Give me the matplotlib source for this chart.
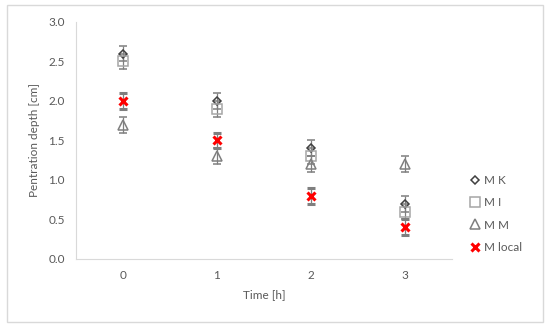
import numpy as np
import matplotlib
matplotlib.use("Agg")
import matplotlib.pyplot as plt
from matplotlib.patches import Rectangle
from matplotlib.lines import Line2D

plt.rcParams['font.family'] = ['Lato', 'DejaVu Sans']

time = [0, 1, 2, 3]
mk = [2.6, 2.0, 1.4, 0.7]
mi = [2.5, 1.9, 1.3, 0.6]
mm = [1.7, 1.3, 1.2, 1.2]
mlocal = [2.0, 1.5, 0.8, 0.4]
err = [0.1, 0.1, 0.1, 0.1]

txt = "#595959"
fig = plt.figure(figsize=(5.5, 3.27), dpi=100)
fig.patches.append(Rectangle((0.012, 0.015), 0.976, 0.97, transform=fig.transFigure,
                             fill=False, edgecolor="#d9d9d9", linewidth=1))
ax = fig.add_axes([0.138, 0.208, 0.684, 0.725])

ekw = dict(ecolor="#7f7f7f", elinewidth=0.9, capsize=3, capthick=0.9, linestyle="none")
styles = [
    ("M K", mk, dict(marker="D", markersize=4.5, markerfacecolor="none",
                     markeredgecolor="#404040", markeredgewidth=1.1)),
    ("M I", mi, dict(marker="s", markersize=6.5, markerfacecolor="none",
                     markeredgecolor="#a6a6a6", markeredgewidth=1.1)),
    ("M M", mm, dict(marker="^", markersize=6.5, markerfacecolor="none",
                     markeredgecolor="#7f7f7f", markeredgewidth=1.1)),
    ("M local", mlocal, dict(marker="x", markersize=6, markerfacecolor="none",
                             markeredgecolor="#ff0000", markeredgewidth=2.2)),
]
handles = []
for name, vals, st in styles:
    ax.errorbar(time, vals, yerr=err, **st, **ekw)
    handles.append(Line2D([], [], linestyle="none", label=name, **st))

ax.set_xlim(-0.5, 3.5)
ax.set_ylim(0, 3.0)
ax.set_xticks(time)
ax.set_yticks(np.arange(0, 3.01, 0.5))
ax.set_yticklabels(["%.1f" % v for v in np.arange(0, 3.01, 0.5)])
ax.tick_params(length=0, labelsize=8.5, colors=txt, pad=8)
for s in ["top", "right"]:
    ax.spines[s].set_visible(False)
for s in ["left", "bottom"]:
    ax.spines[s].set_color("#d9d9d9")
ax.set_xlabel("Time [h]", fontsize=8.5, color=txt, labelpad=6)
ax.set_ylabel("Pentration depth [cm]", fontsize=8.5, color=txt, labelpad=6)

leg = ax.legend(handles=handles, loc="center left", bbox_to_anchor=(1.02, 0.19),
                frameon=False, fontsize=8.5, handlelength=0.8, handletextpad=0.4,
                labelspacing=0.95)
for t in leg.get_texts():
    t.set_color(txt)

fig.savefig("out.png", dpi=100)
